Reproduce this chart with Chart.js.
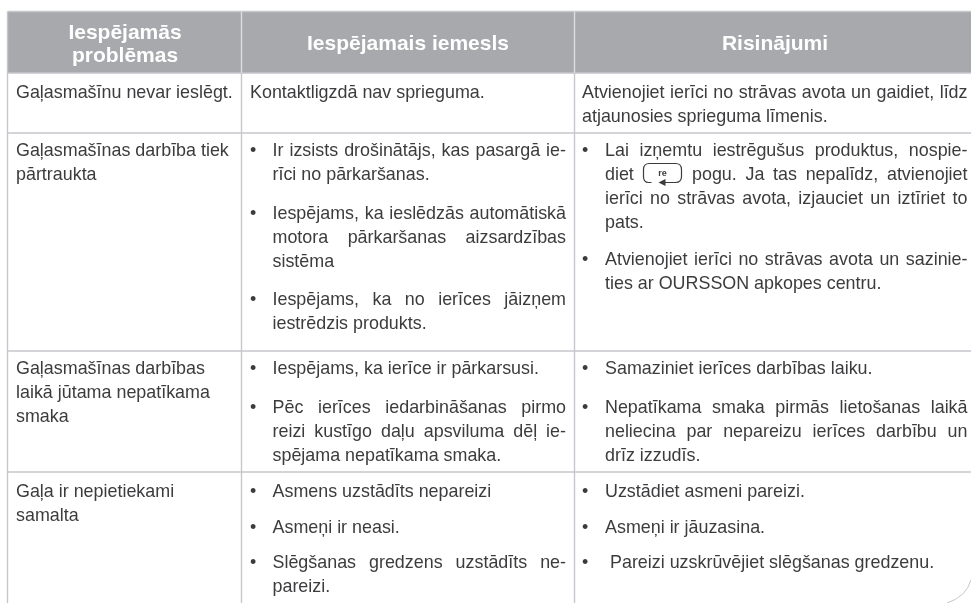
<!DOCTYPE html>
<html lang="lv">
<head>
  <meta charset="UTF-8">
  <title>Iespējamās problēmas</title>
  <style>
    html, body { margin: 0; padding: 0; background: #fff; }
    canvas { display: block; }
  </style>
  <script src="https://cdn.jsdelivr.net/npm/chart.js@4"></script>
</head>
<body>
<canvas id="myChart" width="971" height="603"></canvas>

<script>
// table content: row -> paragraph -> line
var headerLabels = [["Iespējamās", "problēmas"], ["Iespējamais iemesls"], ["Risinājumi"]];

var problemRows = [
  [["Gaļasmašīnu nevar ieslēgt."]],
  [["Gaļasmašīnas darbība tiek", "pārtraukta"]],
  [["Gaļasmašīnas darbības", "laikā jūtama nepatīkama", "smaka"]],
  [["Gaļa ir nepietiekami", "samalta"]]
];

var causeRows = [
  [["Kontaktligzdā nav sprieguma."]],
  [["Ir izsists drošinātājs, kas pasargā ie-", "rīci no pārkaršanas."],
   ["Iespējams, ka ieslēdzās automātiskā", "motora pārkaršanas aizsardzības", "sistēma"],
   ["Iespējams, ka no ierīces jāizņem", "iestrēdzis produkts."]],
  [["Iespējams, ka ierīce ir pārkarsusi."],
   ["Pēc ierīces iedarbināšanas pirmo", "reizi kustīgo daļu apsviluma dēļ ie-", "spējama nepatīkama smaka."]],
  [["Asmens uzstādīts nepareizi"],
   ["Asmeņi ir neasi."],
   ["Slēgšanas gredzens uzstādīts ne-", "pareizi."]]
];

var fixRows = [
  [["Atvienojiet ierīci no strāvas avota un gaidiet, līdz", "atjaunosies sprieguma līmenis."]],
  [["Lai izņemtu iestrēgušus produktus, nospie-", "diet {re} pogu. Ja tas nepalīdz, atvienojiet", "ierīci no strāvas avota, izjauciet un iztīriet to", "pats."],
   ["Atvienojiet ierīci no strāvas avota un sazinie-", "ties ar OURSSON apkopes centru."]],
  [["Samaziniet ierīces darbības laiku."],
   ["Nepatīkama smaka pirmās lietošanas laikā", "neliecina par nepareizu ierīces darbību un", "drīz izzudīs."]],
  [["Uzstādiet asmeni pareizi."],
   ["Asmeņi ir jāuzasina."],
   ["Pareizi uzskrūvējiet slēgšanas gredzenu."]]
];

// layout, in page pixels
var columnEdges = [7.5, 241.5, 574.5, 971];
var rowEdges = [11.5, 73, 133, 351, 472, 603];
var headerCenters = [125, 408, 775];
var lineStep = 24;
var problemBaselines = [[98], [155.5], [373.5], [497]];
var causeBaselines = [[98], [155.5, 218.5, 305], [373.5, 412.5], [497, 533, 568]];
var fixBaselines = [[98], [155.5, 265], [373.5, 412.5], [497, 533, 568]];
var headerBaselines = [[38.5, 61.5], [50], [50]];

var textColor = "#3c3c3e";
var ruleColor = "#c6c7cc";
var headerFill = "#a7a9ac";
var headerRule = "#dcdde0";
var bodyFont = "17.9px 'Liberation Sans', Arial, sans-serif";
var headerFont = "bold 21px 'Liberation Sans', Arial, sans-serif";

function ruleDataset(x1, y1, x2, y2, color) {
  return {
    data: [{x: x1, y: y1}, {x: x2, y: y2}],
    borderColor: color,
    borderWidth: 1.4,
    pointRadius: 0,
    showLine: true,
    clip: false
  };
}

function buildDatasets() {
  var left = columnEdges[0], right = columnEdges[3];
  var sets = [];
  sets.push(ruleDataset(columnEdges[1], rowEdges[0], columnEdges[1], rowEdges[1], headerRule));
  sets.push(ruleDataset(columnEdges[2], rowEdges[0], columnEdges[2], rowEdges[1], headerRule));
  rowEdges.slice(0, 5).forEach(function (y) {
    sets.push(ruleDataset(left, y, right, y, ruleColor));
  });
  sets.push(ruleDataset(left, rowEdges[0], left, rowEdges[5], ruleColor));
  sets.push(ruleDataset(columnEdges[1], rowEdges[1], columnEdges[1], rowEdges[5], ruleColor));
  sets.push(ruleDataset(columnEdges[2], rowEdges[1], columnEdges[2], rowEdges[5], ruleColor));
  // header band goes last so it is painted underneath the rules
  sets.push({
    data: [{x: left, y: rowEdges[1]}, {x: right, y: rowEdges[1]}],
    backgroundColor: headerFill,
    borderWidth: 0,
    pointRadius: 0,
    showLine: true,
    fill: {value: rowEdges[0]}
  });
  return sets;
}

// one line of text, stretched with word spacing when justified
function drawLine(ctx, text, x, y, right, justify) {
  ctx.wordSpacing = "0px";
  if (justify) {
    var gaps = text.split(" ").length - 1;
    if (gaps > 0) {
      ctx.wordSpacing = ((right - x - ctx.measureText(text).width) / gaps) + "px";
    }
  }
  ctx.fillText(text, x, y);
  ctx.wordSpacing = "0px";
}

// the "re" button pictured inside the sentence
function drawReButton(ctx, x, y) {
  ctx.save();
  ctx.strokeStyle = textColor;
  ctx.lineWidth = 1.2;
  ctx.beginPath();
  ctx.moveTo(x + 8, y + 3);
  ctx.lineTo(x + 5, y + 3);
  ctx.quadraticCurveTo(x, y + 3, x, y - 3);
  ctx.lineTo(x, y - 10);
  ctx.quadraticCurveTo(x, y - 16, x + 6, y - 16);
  ctx.lineTo(x + 32, y - 16);
  ctx.quadraticCurveTo(x + 38, y - 16, x + 38, y - 10);
  ctx.lineTo(x + 38, y - 3);
  ctx.quadraticCurveTo(x + 38, y + 3, x + 32, y + 3);
  ctx.lineTo(x + 21, y + 3);
  ctx.stroke();
  ctx.beginPath();
  ctx.moveTo(x + 15, y + 3);
  ctx.lineTo(x + 22, y - 0.5);
  ctx.lineTo(x + 22, y + 6.5);
  ctx.closePath();
  ctx.fillStyle = textColor;
  ctx.fill();
  ctx.font = "bold 9px 'Liberation Sans', Arial, sans-serif";
  ctx.textAlign = "center";
  ctx.fillText("re", x + 19, y - 4);
  ctx.restore();
}

function drawCell(ctx, paragraphs, baselines, plainX, bulletX, textX, right, xScale, yScale) {
  var hasBullets = bulletX !== null;
  paragraphs.forEach(function (lines, p) {
    var base = baselines[p];
    var isBulleted = hasBullets && !(lines.length === 1 && lines[0].indexOf("Kontakt") === 0) && lines[0].indexOf("Atvienojiet ierīci no strāvas avota un gaidiet") !== 0;
    if (isBulleted) {
      ctx.fillText("•", xScale.getPixelForValue(bulletX), yScale.getPixelForValue(base));
    }
    lines.forEach(function (line, i) {
      var x = isBulleted ? textX : plainX;
      if (line.indexOf("Pareizi uzsk") === 0) x += 5;
      var y = base + i * lineStep;
      var px = xScale.getPixelForValue(x), py = yScale.getPixelForValue(y);
      var justify = hasBullets && i < lines.length - 1;
      if (line.indexOf("{re}") >= 0) {
        var parts = line.split("{re}");
        ctx.fillText(parts[0].trim(), px, py);
        drawReButton(ctx, xScale.getPixelForValue(643.5), py);
        drawLine(ctx, parts[1].trim(), xScale.getPixelForValue(692), py, xScale.getPixelForValue(right), true);
      } else {
        drawLine(ctx, line, px, py, xScale.getPixelForValue(right), justify);
      }
    });
  });
}

var tableText = {
  id: "tableText",
  afterDatasetsDraw: function (chart) {
    var ctx = chart.ctx, xs = chart.scales.x, ys = chart.scales.y;
    ctx.save();
    ctx.textBaseline = "alphabetic";

    ctx.font = headerFont;
    ctx.textAlign = "center";
    ctx.fillStyle = "#ffffff";
    headerLabels.forEach(function (lines, c) {
      lines.forEach(function (line, i) {
        ctx.fillText(line, xs.getPixelForValue(headerCenters[c]), ys.getPixelForValue(headerBaselines[c][i]));
      });
    });

    ctx.font = bodyFont;
    ctx.textAlign = "left";
    ctx.fillStyle = textColor;
    problemRows.forEach(function (row, r) {
      drawCell(ctx, row, problemBaselines[r], 16, null, 0, 232, xs, ys);
    });
    causeRows.forEach(function (row, r) {
      drawCell(ctx, row, causeBaselines[r], 250, 250, 272.5, 566, xs, ys);
    });
    fixRows.forEach(function (row, r) {
      drawCell(ctx, row, fixBaselines[r], 582, 582, 605, 967.5, xs, ys);
    });

    // page corner in the bottom right
    ctx.strokeStyle = ruleColor;
    ctx.lineWidth = 1;
    ctx.beginPath();
    ctx.moveTo(xs.getPixelForValue(971), ys.getPixelForValue(580));
    ctx.quadraticCurveTo(xs.getPixelForValue(966), ys.getPixelForValue(597), xs.getPixelForValue(947), ys.getPixelForValue(603));
    ctx.stroke();
    ctx.restore();
  }
};

var chart = new Chart(document.getElementById("myChart").getContext("2d"), {
  type: "scatter",
  data: {datasets: buildDatasets()},
  plugins: [tableText],
  options: {
    responsive: false,
    animation: false,
    layout: {padding: 0},
    plugins: {legend: {display: false}, tooltip: {enabled: false}},
    scales: {
      x: {type: "linear", display: false, min: 0, max: 971},
      y: {type: "linear", display: false, min: 0, max: 603, reverse: true}
    }
  }
});
</script>
</body>
</html>
